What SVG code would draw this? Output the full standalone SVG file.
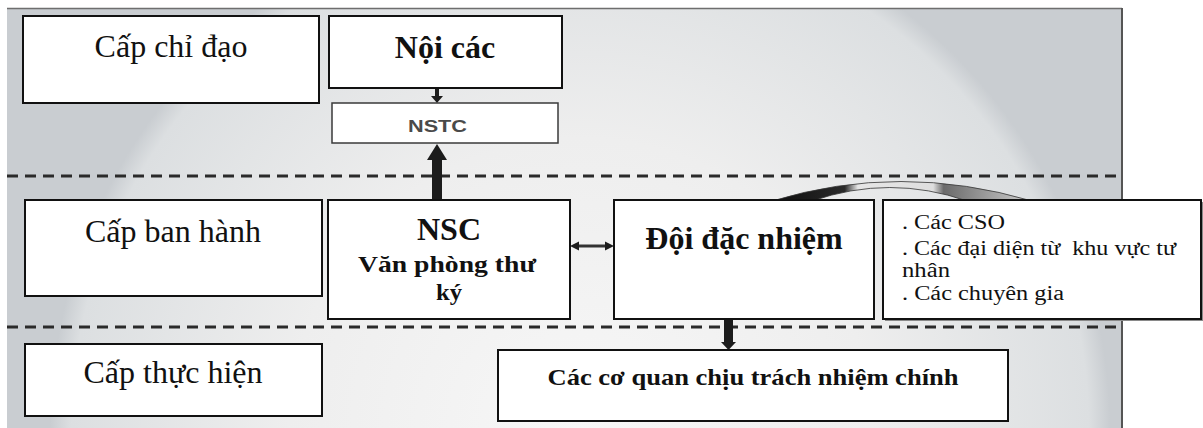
<svg xmlns="http://www.w3.org/2000/svg" width="1203" height="428" viewBox="0 0 1203 428">
  <defs>
    <radialGradient id="panelFill" gradientUnits="userSpaceOnUse" cx="580" cy="430" r="530">
      <stop offset="0" stop-color="#f7f7f7"/>
      <stop offset="0.55" stop-color="#eeeeee"/>
      <stop offset="0.96" stop-color="#dcdfe1"/>
      <stop offset="1" stop-color="#c9cdd1"/>
    </radialGradient>
    <linearGradient id="ribbonFill" gradientUnits="userSpaceOnUse" x1="772" y1="0" x2="1032" y2="0">
      <stop offset="0" stop-color="#0d0d0d"/>
      <stop offset="0.28" stop-color="#2a2a2a"/>
      <stop offset="0.33" stop-color="#e6e6e6"/>
      <stop offset="0.62" stop-color="#dedede"/>
      <stop offset="0.66" stop-color="#6a6a6a"/>
      <stop offset="1" stop-color="#d0d0d0"/>
    </linearGradient>
    <style>
      .box { fill: #ffffff; stroke: #111111; stroke-width: 2; }
      .lvl { font-family: "Liberation Serif", "Times New Roman", serif; font-size: 32px; fill: #111111; text-anchor: middle; }
      .head { font-family: "Liberation Serif", "Times New Roman", serif; font-size: 32px; font-weight: bold; fill: #111111; text-anchor: middle; }
      .sub { font-family: "Liberation Serif", "Times New Roman", serif; font-size: 23px; font-weight: bold; fill: #111111; text-anchor: middle; }
      .list { font-family: "Liberation Serif", "Times New Roman", serif; font-size: 20px; fill: #111111; white-space: pre; }
      .dash { stroke: #2a2a2a; stroke-width: 3; stroke-dasharray: 11 7; fill: none; }
      .arrow { fill: #1c1c1c; }
    </style>
  </defs>

  <!-- page and shaded panel -->
  <rect x="0" y="0" width="1203" height="428" fill="#ffffff"/>
  <rect x="7" y="8" width="1115" height="425" fill="url(#panelFill)"/>
  <line x1="7" y1="8.5" x2="1122" y2="8.5" stroke="#6e6e6e" stroke-width="1.5"/>
  <line x1="1122" y1="8" x2="1122" y2="428" stroke="#555555" stroke-width="2"/>

  <!-- level separators -->
  <line class="dash" x1="7" y1="176" x2="1122" y2="176"/>
  <line class="dash" x1="7" y1="327" x2="1122" y2="327"/>

  <!-- curved ribbon above the task force -->
  <path d="M772,201 Q900,162 1032,201 L967,201 Q890,174 812,201 Z" fill="url(#ribbonFill)" stroke="#333333" stroke-width="0.8"/>

  <!-- connectors -->
  <g id="connectors">
    <!-- Nội các to NSTC -->
    <rect class="arrow" x="435" y="88" width="4" height="9"/>
    <polygon class="arrow" points="431,96 443,96 437,103"/>
    <!-- NSC up to NSTC -->
    <rect class="arrow" x="432" y="158" width="10" height="42"/>
    <polygon class="arrow" points="427,160 447,160 437,144"/>
    <!-- NSC and task force, both ways -->
    <line x1="576" y1="246" x2="608" y2="246" stroke="#333333" stroke-width="3"/>
    <polygon class="arrow" points="570,246 579,241.5 579,250.5"/>
    <polygon class="arrow" points="614,246 605,241.5 605,250.5"/>
    <!-- task force down to agencies -->
    <rect class="arrow" x="724" y="319" width="9" height="25"/>
    <polygon class="arrow" points="721,342 736,342 728.5,350"/>
  </g>

  <!-- level labels -->
  <g id="level-direct">
    <rect class="box" x="23" y="16" width="296" height="87"/>
    <text class="lvl" x="171" y="57">Cấp chỉ đạo</text>
  </g>
  <g id="level-issue">
    <rect class="box" x="25" y="200" width="297" height="96"/>
    <text class="lvl" x="173" y="242">Cấp ban hành</text>
  </g>
  <g id="level-exec">
    <rect class="box" x="25" y="344" width="297" height="72"/>
    <text class="lvl" x="173" y="383">Cấp thực hiện</text>
  </g>

  <!-- organisation nodes -->
  <g id="cabinet">
    <rect class="box" x="329" y="16" width="233" height="72" stroke-width="3"/>
    <text class="head" x="445" y="58" font-size="31">Nội các</text>
  </g>
  <g id="nstc">
    <rect x="332" y="103" width="226" height="40" fill="#ffffff" stroke="#3a3a3a" stroke-width="1.5"/>
    <text x="408" y="132" font-family="'Liberation Sans', Arial, sans-serif" font-size="17" font-weight="bold" fill="#4a4a4a" textLength="59" lengthAdjust="spacingAndGlyphs">NSTC</text>
  </g>
  <g id="nsc">
    <rect class="box" x="328" y="200" width="242" height="119"/>
    <text class="head" x="449" y="240">NSC</text>
    <text class="sub" x="447" y="272" textLength="178" lengthAdjust="spacingAndGlyphs">Văn phòng thư</text>
    <text class="sub" x="449" y="300" textLength="26" lengthAdjust="spacingAndGlyphs">ký</text>
  </g>
  <g id="task-force">
    <rect class="box" x="614" y="200" width="260" height="119"/>
    <text class="head" x="744" y="249">Đội đặc nhiệm</text>
  </g>
  <g id="stakeholders">
    <rect x="885" y="202" width="318" height="119" fill="#8a8a8a"/>
    <rect class="box" x="883" y="200" width="318" height="119" stroke-width="2.5"/>
    <text class="list" x="902" y="229" textLength="103" lengthAdjust="spacingAndGlyphs">. Các CSO</text>
    <text class="list" x="902" y="255" textLength="274" lengthAdjust="spacingAndGlyphs" xml:space="preserve">. Các đại diện từ  khu vực tư</text>
    <text class="list" x="902" y="277" textLength="48" lengthAdjust="spacingAndGlyphs">nhân</text>
    <text class="list" x="902" y="300" textLength="162" lengthAdjust="spacingAndGlyphs">. Các chuyên gia</text>
  </g>
  <g id="agencies">
    <rect class="box" x="498" y="350" width="510" height="71"/>
    <text class="sub" x="753" y="385" textLength="411" lengthAdjust="spacingAndGlyphs">Các cơ quan chịu trách nhiệm chính</text>
  </g>
</svg>
